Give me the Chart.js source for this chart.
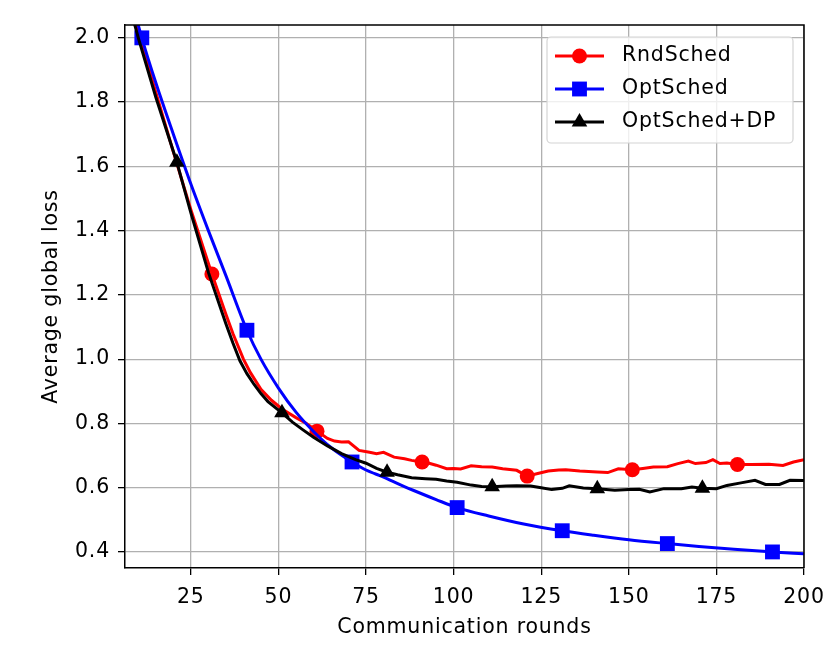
<!DOCTYPE html>
<html>
<head>
<meta charset="utf-8">
<title>Average global loss</title>
<script src="https://cdn.jsdelivr.net/npm/chart.js@4.4.0/dist/chart.umd.min.js"></script>
<style>
  html, body { margin: 0; padding: 0; background: #fff; }
  #wrap { width: 830px; height: 664px; }
</style>
</head>
<body>
<div id="wrap"><canvas id="lossChart"></canvas></div>
<script>
// values
const rndRounds = [7, 10, 15, 20, 25, 31, 35, 37, 40, 42, 45, 48, 51, 55, 58, 61, 64, 66, 68, 70, 73, 76, 78,
  80, 83, 86, 88, 91, 93, 95, 98, 100, 102, 105, 108, 111, 114, 118, 121, 124, 127, 130, 132,
  136, 141, 144, 147, 151, 154, 157, 161, 164, 167, 169, 172, 174, 176, 178, 181, 185, 190, 194, 197, 200];
const rndLoss = [2.15, 2.02, 1.83, 1.645, 1.465, 1.265, 1.14, 1.08, 1.0, 0.958, 0.906, 0.872, 0.845, 0.818, 0.80, 0.776, 0.753, 0.745, 0.742, 0.743, 0.716, 0.71, 0.706,
  0.71, 0.695, 0.69, 0.685, 0.68, 0.676, 0.67, 0.659, 0.66, 0.658, 0.668, 0.665, 0.664, 0.659, 0.654, 0.636, 0.644, 0.652, 0.655, 0.656,
  0.652, 0.649, 0.647, 0.659, 0.656, 0.66, 0.664, 0.665, 0.675, 0.683, 0.675, 0.678, 0.687, 0.675, 0.677, 0.672, 0.672, 0.673, 0.669, 0.68, 0.687];

const optRounds = [7, 11, 15, 20, 25, 30, 35, 41, 45, 50, 55, 60, 65, 71, 75, 80, 85, 90, 95, 101,
  110, 120, 131, 140, 150, 161, 170, 180, 191, 200];
const optLoss = [2.16, 2.0, 1.86, 1.70, 1.545, 1.40, 1.26, 1.09, 1.0, 0.91, 0.835, 0.775, 0.725, 0.68, 0.655, 0.633, 0.608, 0.585, 0.563, 0.538,
  0.512, 0.487, 0.466, 0.452, 0.438, 0.426, 0.417, 0.408, 0.40, 0.394];

const dpRounds = [7, 10, 15, 21, 25, 30, 35, 37, 39, 41, 43, 45, 47, 51, 54, 57, 60, 64, 68, 72, 75, 78, 81,
  84, 88, 92, 95, 98, 101, 105, 108, 111, 115, 118, 122, 125, 128, 131, 133, 137, 141, 146, 150,
  153, 156, 160, 165, 168, 171, 175, 178, 182, 186, 189, 193, 196, 200];
const dpLoss = [2.12, 2.0, 1.815, 1.613, 1.455, 1.27, 1.11, 1.05, 0.995, 0.955, 0.922, 0.893, 0.868, 0.833, 0.804, 0.78, 0.757, 0.73, 0.706, 0.687, 0.676, 0.66, 0.648,
  0.64, 0.631, 0.628, 0.626, 0.621, 0.617, 0.608, 0.604, 0.603, 0.605, 0.606, 0.605, 0.6, 0.594, 0.598, 0.606, 0.599, 0.597, 0.592, 0.594,
  0.595, 0.587, 0.597, 0.597, 0.602, 0.598, 0.597, 0.607, 0.615, 0.623, 0.61, 0.61, 0.623, 0.622];

// rounds where a marker is drawn
const rndMarks = [31, 61, 91, 121, 151, 181];
const optMarks = [11, 41, 71, 101, 131, 161, 191];
const dpMarks = [21, 51, 81, 111, 141, 171];

const xTicks = [25, 50, 75, 100, 125, 150, 175, 200];
const yTicks = [0.4, 0.6, 0.8, 1.0, 1.2, 1.4, 1.6, 1.8, 2.0];

const FONT = 'DejaVu Sans';
const SPACING = '0.8px';

Chart.defaults.font.family = FONT;
Chart.defaults.font.size = 20.5;
Chart.defaults.color = '#000';

function toPoints(xs, ys) {
  return xs.map((x, i) => ({ x: x, y: ys[i] }));
}

function markerAt(marks, r) {
  return ctx => (ctx.raw && marks.includes(ctx.raw.x)) ? r : 0;
}

const series = [
  { label: 'RndSched', color: '#ff0000', style: 'circle', r: 7.5, rounds: rndRounds, loss: rndLoss, marks: rndMarks, order: 3 },
  { label: 'OptSched', color: '#0000ff', style: 'rect', r: 10.5, rounds: optRounds, loss: optLoss, marks: optMarks, order: 2 },
  { label: 'OptSched+DP', color: '#000000', style: 'triangle', r: 9, rounds: dpRounds, loss: dpLoss, marks: dpMarks, order: 1 }
];

const spacingPlugin = {
  id: 'spacing',
  beforeLayout(chart) { chart.ctx.letterSpacing = SPACING; },
  beforeDraw(chart) { chart.ctx.letterSpacing = SPACING; }
};

// top/right spines and the legend inside the plot
const framePlugin = {
  id: 'frame',
  afterDraw(chart) {
    const { ctx, chartArea: a } = chart;
    ctx.save();
    ctx.strokeStyle = '#000';
    ctx.lineWidth = 1.5;
    ctx.beginPath();
    ctx.moveTo(a.left, a.top);
    ctx.lineTo(a.right, a.top);
    ctx.lineTo(a.right, a.bottom);
    ctx.stroke();

    const bx = a.right - 257, by = a.top + 12, bw = 246, bh = 106;
    ctx.beginPath();
    ctx.roundRect(bx, by, bw, bh, 4);
    ctx.fillStyle = 'rgba(255,255,255,0.8)';
    ctx.fill();
    ctx.strokeStyle = '#d4d4d4';
    ctx.lineWidth = 1.2;
    ctx.stroke();

    ctx.font = '20.5px "' + FONT + '"';
    ctx.letterSpacing = SPACING;
    ctx.textBaseline = 'middle';
    ctx.textAlign = 'left';
    series.forEach((s, i) => {
      const cy = by + 19 + i * 33;
      const x0 = bx + 8, x1 = bx + 57, cx = (x0 + x1) / 2;
      ctx.strokeStyle = s.color;
      ctx.fillStyle = s.color;
      ctx.lineWidth = 3;
      ctx.beginPath();
      ctx.moveTo(x0, cy);
      ctx.lineTo(x1, cy);
      ctx.stroke();
      ctx.beginPath();
      if (s.style === 'circle') {
        ctx.arc(cx, cy, s.r, 0, Math.PI * 2);
      } else if (s.style === 'rect') {
        const h = s.r * Math.SQRT1_2;
        ctx.rect(cx - h, cy - h, 2 * h, 2 * h);
      } else {
        ctx.moveTo(cx, cy - s.r);
        ctx.lineTo(cx + s.r * 0.866, cy + s.r * 0.5);
        ctx.lineTo(cx - s.r * 0.866, cy + s.r * 0.5);
        ctx.closePath();
      }
      ctx.fill();
      ctx.fillStyle = '#000';
      ctx.fillText(s.label, bx + 75, cy);
    });
    ctx.restore();
  }
};

new Chart(document.getElementById('lossChart'), {
  type: 'line',
  data: {
    datasets: series.map(s => ({
      label: s.label,
      data: toPoints(s.rounds, s.loss),
      borderColor: s.color,
      backgroundColor: s.color,
      borderWidth: 3,
      tension: 0,
      cubicInterpolationMode: s.style === 'rect' ? 'monotone' : 'default',
      pointStyle: s.style,
      pointRadius: markerAt(s.marks, s.r),
      pointBorderWidth: 0,
      pointHoverRadius: 0,
      order: s.order,
      fill: false
    }))
  },
  options: {
    responsive: true,
    maintainAspectRatio: false,
    animation: false,
    events: [],
    layout: { padding: { left: 0, right: 26, top: 25, bottom: 0 } },
    plugins: {
      legend: { display: false },
      tooltip: { enabled: false }
    },
    scales: {
      x: {
        type: 'linear',
        min: 6.2,
        max: 200,
        afterBuildTicks: axis => { axis.ticks = xTicks.map(v => ({ value: v })); },
        afterFit: axis => { axis.height = 96; axis.paddingLeft = 0; axis.paddingRight = 0; },
        grid: { color: '#b0b0b0', lineWidth: 1.3, tickLength: 7, tickColor: '#000', tickWidth: 1.3 },
        border: { color: '#000', width: 1.5 },
        ticks: { autoSkip: false, maxRotation: 0, padding: 10, color: '#000' },
        title: { display: true, text: 'Communication rounds', color: '#000', padding: { top: 0, bottom: 24 } }
      },
      y: {
        type: 'linear',
        min: 0.35,
        max: 2.04,
        afterBuildTicks: axis => { axis.ticks = yTicks.map(v => ({ value: v })); },
        afterFit: axis => { axis.width = 125; axis.paddingTop = 0; axis.paddingBottom = 0; },
        grid: { color: '#b0b0b0', lineWidth: 1.3, tickLength: 7, tickColor: '#000', tickWidth: 1.3 },
        border: { color: '#000', width: 1.5 },
        ticks: { autoSkip: false, padding: 8, color: '#000', callback: v => v.toFixed(1) },
        title: { display: true, text: 'Average global loss', color: '#000', padding: { top: 39, bottom: 0 } }
      }
    }
  },
  plugins: [spacingPlugin, framePlugin]
});
</script>
</body>
</html>
